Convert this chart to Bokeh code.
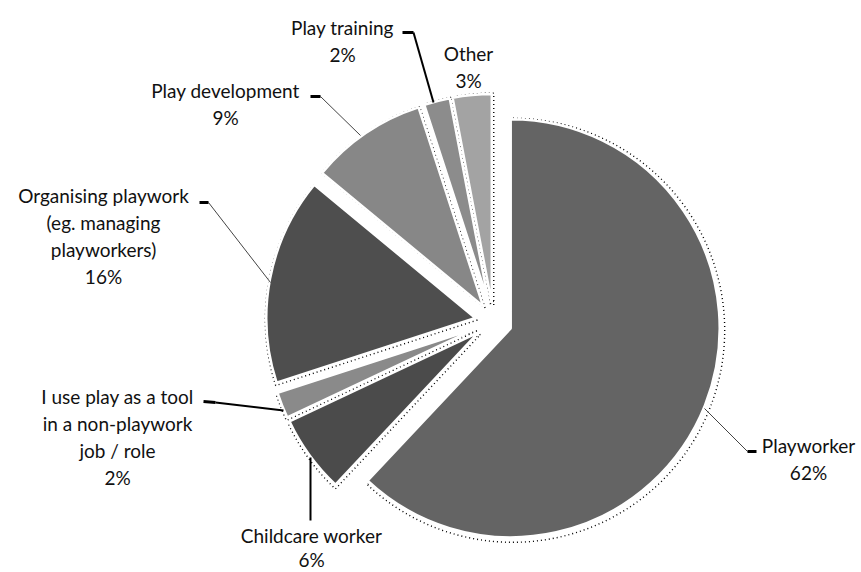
import math
from bokeh.plotting import figure
from bokeh.models import ColumnDataSource, Range1d
from bokeh.core.properties import value
from bokeh.embed import file_html
from bokeh.resources import INLINE

# ---- data ----
categories = ["Playworker", "Childcare worker", "I use play as a tool\nin a non-playwork\njob / role",
              "Organising playwork\n(eg. managing\nplayworkers)", "Play development", "Play training", "Other"]
percents = [62, 6, 2, 16, 9, 2, 3]
colors = ["#646464", "#4b4b4b", "#8a8a8a", "#4e4e4e", "#878787", "#8c8c8c", "#a3a3a3"]

# ---- layout (pixel space, y up) ----
W, H = 861, 572
CX, CY = 493, H - 321
R = 209
EXPLODE = 18.5

# label anchor centres (x, y of first line, pixel space from top)
label_pos = [(808, 445), (311, 535), (117, 396), (103, 195), (225, 90), (342, 27), (468, 53)]
line_h = [27, 24, 27, 27, 27, 27, 27]
# leader lines (pixel space from top): list of polylines
leaders = [
    [(704, 408), (747, 451)],
    [(310, 457), (310, 520)],
    [(283, 410), (215, 402)],
    [(270, 282), (208, 202)],
    [(360, 135), (320, 96)],
    [(433, 102), (413, 32)],
    None,
]
ticks = [
    [(747, 451), (756, 451)],
    None,
    [(215, 402), (203, 401)],
    [(208, 202), (199, 202)],
    [(320, 96), (310, 96)],
    [(413, 32), (402, 32)],
    None,
]
leader_w = [1, 2, 2, 1, 1, 2, 1]

p = figure(width=W, height=H, output_backend="svg", toolbar_location=None,
           x_range=Range1d(0, W), y_range=Range1d(0, H), min_border=0)
p.axis.visible = False
p.grid.visible = False
p.outline_line_color = None
p.background_fill_color = "white"

total = sum(percents)
xs, ys, sa, ea, sxs, sys_ = [], [], [], [], [], []
cum = 0.0
for v in percents:
    t1 = cum / total * 360.0
    t2 = (cum + v) / total * 360.0
    mid = math.radians((t1 + t2) / 2)
    cx = CX + EXPLODE * math.sin(mid)
    cy = CY + EXPLODE * math.cos(mid)
    xs.append(cx)
    ys.append(cy)
    sxs.append(cx + 2)
    sys_.append(cy - 2)
    sa.append(math.radians(90 - t2))
    ea.append(math.radians(90 - t1))
    cum += v

src = ColumnDataSource(dict(x=xs, y=ys, sx=sxs, sy=sys_, sa=sa, ea=ea, color=colors))
# dotted shadow
p.wedge(x="sx", y="sy", radius=R + 3, start_angle="sa", end_angle="ea", direction="anticlock",
        source=src, fill_color=None, line_color="black", line_dash="1 3", line_width=1.4)
p.wedge(x="x", y="y", radius=R, start_angle="sa", end_angle="ea", direction="anticlock",
        source=src, fill_color="color", line_color="white", line_width=2.5)

for i, name in enumerate(categories):
    if leaders[i]:
        lx = [a for a, b in leaders[i]]
        ly = [H - b for a, b in leaders[i]]
        p.line(lx, ly, line_color="black" if leader_w[i] > 1 else "#444444", line_width=leader_w[i])
    if ticks[i]:
        tx = [a for a, b in ticks[i]]
        ty = [H - b for a, b in ticks[i]]
        p.line(tx, ty, line_color="black", line_width=3)
    lines = name.split("\n") + [f"{percents[i]}%"]
    x0, y0 = label_pos[i]
    p.text(x=[x0] * len(lines), y=[H - (y0 + k * line_h[i]) for k in range(len(lines))], text=lines,
           text_align="center", text_baseline="middle", text_font=value("Lato"),
           text_font_size="19px", text_color="#111111")

open("out.html", "w").write(file_html(p, INLINE))
